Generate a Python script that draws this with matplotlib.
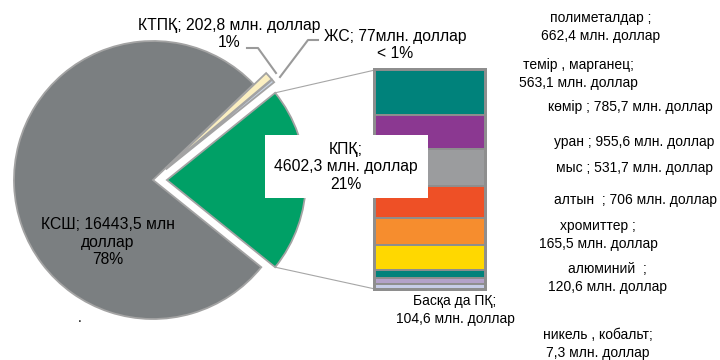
import numpy as np
import matplotlib
matplotlib.use("Agg")
import matplotlib.pyplot as plt
from matplotlib.patches import Rectangle

plt.rcParams["font.family"] = ["Liberation Sans", "DejaVu Sans"]
plt.rcParams["font.size"] = 10

# main pie: sector totals, mln USD
pie_names = ["КПҚ", "ЖС", "КТПҚ", "КСШ"]
pie_values = [4602.3, 77.0, 202.8, 16443.5]
pie_colors = ["#00a066", "#c9d5e6", "#fbefc1", "#7b7f81"]
pie_explode = [0.10, 0.12, 0.12, 0.0]
pie_labels = [
    "КПҚ;\n4602,3 млн. доллар\n21%",
    "ЖС; 77млн. доллар\n< 1%",
    "КТПҚ; 202,8 млн. доллар\n1%",
    "КСШ; 16443,5 млн\nдоллар\n78%",
]

# breakdown of КПҚ, stacked from top to bottom
bar_names = ["уран", "алтын", "көмір", "полиметалдар", "темір, марганец",
             "мыс", "хромиттер", "алюминий", "Басқа да ПҚ", "никель, кобальт"]
bar_values = [955.6, 706.0, 785.7, 662.4, 563.1, 531.7, 165.5, 120.6, 104.6, 7.3]
bar_colors = ["#00827b", "#8b3891", "#9b9c9e", "#ee5026", "#f68d2e",
              "#ffd800", "#00827b", "#b3a2c9", "#c7cde8", "#5b6bb0"]
bar_labels = [
    "полиметалдар ;\n662,4 млн. доллар",
    "темір , марганец;\n563,1 млн. доллар",
    "көмір ; 785,7 млн. доллар",
    "уран ; 955,6 млн. доллар",
    "мыс ; 531,7 млн. доллар",
    "алтын  ; 706 млн. доллар",
    "хромиттер ;\n165,5 млн. доллар",
    "алюминий  ;\n120,6 млн. доллар",
    "никель , кобальт;\n7,3 млн. доллар",
    "Басқа да ПҚ;\n104,6 млн. доллар",
]

fig = plt.figure(figsize=(7.2, 3.6), dpi=100)
ax = fig.add_axes([0, 0, 1, 1])

# ---- pie ---------------------------------------------------------------------
cx, cy, r = 153, 180, 139
total = sum(pie_values)
start = -pie_values[0] / total * 360 / 2
wedges, _ = ax.pie(pie_values, colors=pie_colors,
                   explode=[e * r for e in pie_explode],
                   startangle=start, counterclock=True, center=(cx, cy),
                   radius=r, frame=True,
                   wedgeprops=dict(edgecolor="#a3a3a3", linewidth=1.3))
ax.set_xlim(0, 720)
ax.set_ylim(0, 360)
ax.set_aspect("equal")
ax.axis("off")

# ---- stacked bar for the КПҚ breakdown ----------------------------------------
bx, bw = 430, 110
b_bot, b_top = 71, 290
scale = (b_top - b_bot) / sum(bar_values)
heights = np.array(bar_values) * scale
tops = b_top - np.concatenate([[0], np.cumsum(heights)[:-1]])
ax.add_patch(Rectangle((bx - bw / 2 - 2, b_bot - 2), bw + 4, b_top - b_bot + 4,
                       facecolor="#8e8e8e", edgecolor="none", zorder=2))
ax.bar([bx] * len(heights), heights, width=bw, bottom=tops - heights,
       color=bar_colors, edgecolor="#8e8e8e", linewidth=1.4, zorder=3)

# connector lines from the exploded wedge to the bar
kp = wedges[0]
half = np.radians(kp.theta2 - kp.theta1) / 2
ox, oy = kp.center
for sgn, by in [(1, b_top), (-1, b_bot)]:
    a = np.radians((kp.theta1 + kp.theta2) / 2) + sgn * half
    ax.plot([ox + r * np.cos(a), bx - bw / 2], [oy + r * np.sin(a), by],
            color="#a6a6a6", linewidth=0.8, zorder=1)

# ---- labels -------------------------------------------------------------------
pie_fs = 11.3
ax.add_patch(Rectangle((265, 162), 163, 63, facecolor="white",
                       edgecolor="none", zorder=4))
ax.text(346, 193, pie_labels[0], ha="center", va="center", linespacing=1.2,
        fontsize=pie_fs, zorder=5)
ax.text(108, 118, pie_labels[3], ha="center", va="center", linespacing=1.2,
        fontsize=pie_fs)
ax.text(229, 326, pie_labels[2], ha="center", va="center", linespacing=1.2,
        fontsize=pie_fs)
ax.text(395, 315, pie_labels[1], ha="center", va="center", linespacing=1.2,
        fontsize=pie_fs)

# leader lines for the thin wedges
ax.plot([247, 258, 276], [312, 312, 287], color="#9a9a9a", linewidth=1.5)
ax.plot([318, 308, 280], [320, 320, 283], color="#9a9a9a", linewidth=1.5)

label_pos = [(601, 333), (578, 286), (630, 253), (634, 218), (634, 192),
             (635, 160), (598, 125), (607, 82), (598, 16), (455, 50)]
for (x, y), txt in zip(label_pos, bar_labels):
    ax.text(x, y, txt, ha="center", va="center", linespacing=1.35)

ax.text(80, 42, ".", ha="center", va="center")

fig.savefig("out.png", dpi=100)
